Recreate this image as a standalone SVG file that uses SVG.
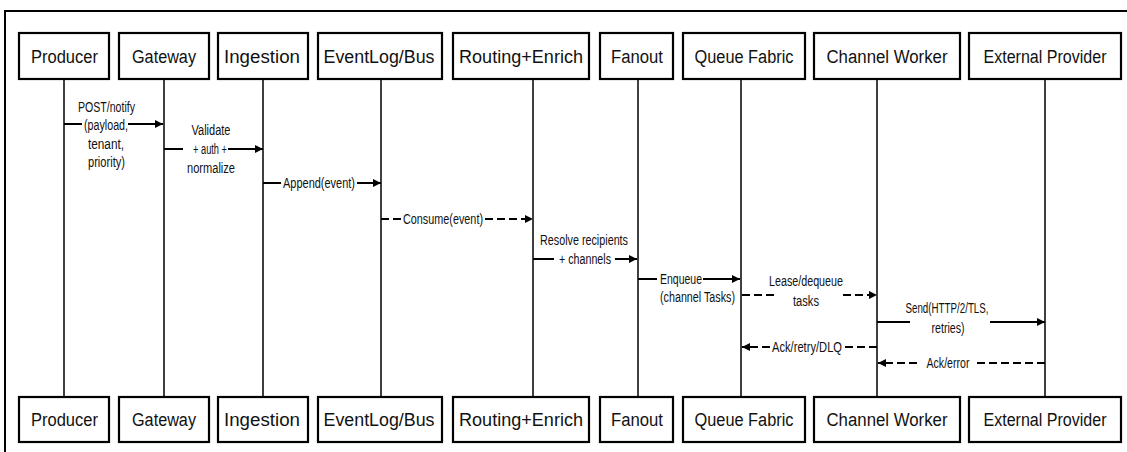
<svg xmlns="http://www.w3.org/2000/svg" width="1127" height="452" viewBox="0 0 1127 452">
<style>
.frame{fill:none;stroke:#000;stroke-width:2}
.box{fill:#fff;stroke:#000;stroke-width:2.2}
.life{stroke:#000;stroke-width:1.5}
.hd{font-family:"Liberation Sans Narrow","Liberation Sans",Arial,sans-serif;font-size:18px;fill:#111;text-anchor:middle}
.lb{font-family:"Liberation Sans Narrow","Liberation Sans",Arial,sans-serif;font-size:14px;fill:#111;text-anchor:middle}
.msg{fill:none;stroke:#000;stroke-width:2;marker-end:url(#ah)}
.dash{stroke-dasharray:8 4}
</style>
<defs>
<marker id="ah" viewBox="0 0 8 8" refX="8" refY="4" markerWidth="8" markerHeight="8" markerUnits="userSpaceOnUse" orient="auto">
<path d="M0,0 L8,4 L0,8 z" fill="#000"/>
</marker>
</defs>
<rect width="1127" height="452" fill="#fff"/>
<rect class="frame" x="5" y="11" width="1130" height="450"/>

<g id="producer">
<line class="life" x1="64" y1="79" x2="64" y2="397"/>
<rect class="box" x="19" y="33" width="90" height="46"/><text class="hd" x="64.5" y="63" textLength="67" lengthAdjust="spacingAndGlyphs">Producer</text>
<rect class="box" x="19" y="397" width="90" height="45"/><text class="hd" x="64.5" y="426" textLength="67" lengthAdjust="spacingAndGlyphs">Producer</text>
</g>
<g id="gateway">
<line class="life" x1="164" y1="79" x2="164" y2="397"/>
<rect class="box" x="119" y="33" width="90" height="46"/><text class="hd" x="164" y="63" textLength="64" lengthAdjust="spacingAndGlyphs">Gateway</text>
<rect class="box" x="119" y="397" width="90" height="45"/><text class="hd" x="164" y="426" textLength="64" lengthAdjust="spacingAndGlyphs">Gateway</text>
</g>
<g id="ingestion">
<line class="life" x1="263" y1="79" x2="263" y2="397"/>
<rect class="box" x="218" y="33" width="90" height="46"/><text class="hd" x="262" y="63" textLength="76" lengthAdjust="spacingAndGlyphs">Ingestion</text>
<rect class="box" x="218" y="397" width="90" height="45"/><text class="hd" x="262" y="426" textLength="76" lengthAdjust="spacingAndGlyphs">Ingestion</text>
</g>
<g id="eventlog">
<line class="life" x1="381" y1="79" x2="381" y2="397"/>
<rect class="box" x="318" y="33" width="124" height="46"/><text class="hd" x="379" y="63" textLength="111" lengthAdjust="spacingAndGlyphs">EventLog/Bus</text>
<rect class="box" x="318" y="397" width="124" height="45"/><text class="hd" x="379" y="426" textLength="111" lengthAdjust="spacingAndGlyphs">EventLog/Bus</text>
</g>
<g id="routing">
<line class="life" x1="533" y1="79" x2="533" y2="397"/>
<rect class="box" x="453" y="33" width="136" height="46"/><text class="hd" x="521" y="63" textLength="124" lengthAdjust="spacingAndGlyphs">Routing+Enrich</text>
<rect class="box" x="453" y="397" width="136" height="45"/><text class="hd" x="521" y="426" textLength="124" lengthAdjust="spacingAndGlyphs">Routing+Enrich</text>
</g>
<g id="fanout">
<line class="life" x1="638" y1="79" x2="638" y2="397"/>
<rect class="box" x="600" y="33" width="73" height="46"/><text class="hd" x="637" y="63" textLength="52" lengthAdjust="spacingAndGlyphs">Fanout</text>
<rect class="box" x="600" y="397" width="73" height="45"/><text class="hd" x="637" y="426" textLength="52" lengthAdjust="spacingAndGlyphs">Fanout</text>
</g>
<g id="queuefabric">
<line class="life" x1="741" y1="79" x2="741" y2="397"/>
<rect class="box" x="683" y="33" width="122" height="46"/><text class="hd" x="744" y="63" textLength="99" lengthAdjust="spacingAndGlyphs">Queue Fabric</text>
<rect class="box" x="683" y="397" width="122" height="45"/><text class="hd" x="744" y="426" textLength="99" lengthAdjust="spacingAndGlyphs">Queue Fabric</text>
</g>
<g id="channelworker">
<line class="life" x1="877" y1="79" x2="877" y2="397"/>
<rect class="box" x="814" y="33" width="146" height="46"/><text class="hd" x="887" y="63" textLength="121" lengthAdjust="spacingAndGlyphs">Channel Worker</text>
<rect class="box" x="814" y="397" width="146" height="45"/><text class="hd" x="887" y="426" textLength="121" lengthAdjust="spacingAndGlyphs">Channel Worker</text>
</g>
<g id="externalprovider">
<line class="life" x1="1045" y1="79" x2="1045" y2="397"/>
<rect class="box" x="969" y="33" width="152" height="46"/><text class="hd" x="1045" y="63" textLength="123" lengthAdjust="spacingAndGlyphs">External Provider</text>
<rect class="box" x="969" y="397" width="152" height="45"/><text class="hd" x="1045" y="426" textLength="123" lengthAdjust="spacingAndGlyphs">External Provider</text>
</g>

<g id="connectors">
<g id="m1">
<path class="msg" d="M64,124 H82 M128,124 H163"/>
<text class="lb" x="106.5" y="112" textLength="57" lengthAdjust="spacingAndGlyphs">POST/notify</text>
<text class="lb" x="106" y="130" textLength="44" lengthAdjust="spacingAndGlyphs">(payload,</text>
<text class="lb" x="106" y="149" textLength="36" lengthAdjust="spacingAndGlyphs">tenant,</text>
<text class="lb" x="106.5" y="167" textLength="37" lengthAdjust="spacingAndGlyphs">priority)</text>
</g>
<g id="m2">
<path class="msg" d="M164,149 H183 M228,149 H263"/>
<text class="lb" x="211" y="135" textLength="39" lengthAdjust="spacingAndGlyphs">Validate</text>
<text class="lb" x="210" y="154" textLength="34" lengthAdjust="spacingAndGlyphs">+ auth +</text>
<text class="lb" x="211" y="173" textLength="48" lengthAdjust="spacingAndGlyphs">normalize</text>
</g>
<g id="m3">
<path class="msg" d="M263,183 H281 M357,183 H381"/>
<text class="lb" x="319" y="188" textLength="72" lengthAdjust="spacingAndGlyphs">Append(event)</text>
</g>
<g id="m4">
<path class="msg dash" d="M381,219 H401 M485,219 H533"/>
<text class="lb" x="443" y="224" textLength="80" lengthAdjust="spacingAndGlyphs">Consume(event)</text>
</g>
<g id="m5">
<path class="msg" d="M533,259 H554 M615,259 H637"/>
<text class="lb" x="584" y="245" textLength="88" lengthAdjust="spacingAndGlyphs">Resolve recipients</text>
<text class="lb" x="585" y="264" textLength="52" lengthAdjust="spacingAndGlyphs">+ channels</text>
</g>
<g id="m6">
<path class="msg" d="M638,279 H657 M703,279 H740"/>
<text class="lb" x="660" y="284" textLength="42" lengthAdjust="spacingAndGlyphs" style="text-anchor:start">Enqueue</text>
<text class="lb" x="697.5" y="302" textLength="75" lengthAdjust="spacingAndGlyphs">(channel Tasks)</text>
</g>
<g id="m7">
<path class="msg dash" d="M742,295 H777 M843,295 H877"/>
<text class="lb" x="806" y="286" textLength="74" lengthAdjust="spacingAndGlyphs">Lease/dequeue</text>
<text class="lb" x="806" y="306" textLength="26" lengthAdjust="spacingAndGlyphs">tasks</text>
</g>
<g id="m8">
<path class="msg" d="M877,322 H910 M990,322 H1045"/>
<text class="lb" x="947" y="313" textLength="83" lengthAdjust="spacingAndGlyphs">Send(HTTP/2/TLS,</text>
<text class="lb" x="948" y="333" textLength="33" lengthAdjust="spacingAndGlyphs">retries)</text>
</g>
<g id="m9">
<path class="msg dash" d="M877,347 H843 M770,347 H742"/>
<text class="lb" x="807" y="352" textLength="70" lengthAdjust="spacingAndGlyphs">Ack/retry/DLQ</text>
</g>
<g id="m10">
<path class="msg dash" d="M1045,363 H977 M917,363 H878"/>
<text class="lb" x="948" y="368" textLength="43" lengthAdjust="spacingAndGlyphs">Ack/error</text>
</g>
</g>
</svg>
